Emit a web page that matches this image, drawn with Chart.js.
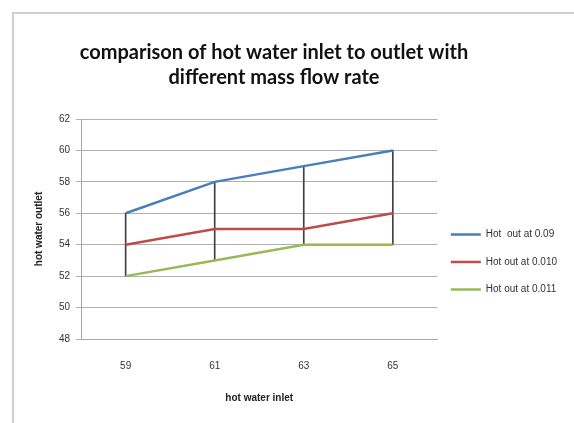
<!DOCTYPE html>
<html>
<head>
<meta charset="utf-8">
<script src="https://cdn.jsdelivr.net/npm/chart.js@4.4.1/dist/chart.umd.min.js"></script>
<style>
    html, body { margin: 0; padding: 0; background: #fff; }
    #frame {
        position: absolute; left: 12px; top: 12px; width: 562px; height: 411px;
        border-left: 2px solid #cfcfcf; border-top: 2px solid #cfcfcf;
    }
    #wrap { position: absolute; left: 0; top: 0; width: 574px; height: 423px; }
</style>
</head>
<body>
<div id="frame"></div>
<div id="wrap"><canvas id="chart" width="574" height="423"></canvas></div>
<script>
// 数据
const inletTemps = ['59', '61', '63', '65'];
const outAt009 = [56, 58, 59, 60];
const outAt010 = [54, 55, 55, 56];
const outAt011 = [52, 53, 54, 54];
const seriesLabels = ['Hot  out at 0.09', 'Hot out at 0.010', 'Hot out at 0.011'];
const yTicks = [48, 50, 52, 54, 56, 58, 60, 62];

// 高低线 (每个类别的最大/最小值)
const highLow = inletTemps.map((_, i) => {
    const vals = [outAt009[i], outAt010[i], outAt011[i]];
    return [Math.min(...vals), Math.max(...vals)];
});

// 标题左移, 图例下移
const nudgeBoxes = {
    id: 'nudgeBoxes',
    afterLayout(chart) {
        if (chart.titleBlock) {
            chart.titleBlock.left -= 26;
            chart.titleBlock.right -= 26;
        }
        if (chart.legend) {
            chart.legend.top += 44;
            chart.legend.bottom += 44;
            chart.legend.left -= 4;
            chart.legend.right -= 4;
        }
    }
};

const lineStyle = (color) => ({
    borderColor: color,
    backgroundColor: color,
    borderWidth: 2.5,
    pointRadius: 0,
    tension: 0,
    fill: false
});

const smallFont = { family: 'Liberation Sans Narrow, Liberation Sans', size: 10 };

const ctx = document.getElementById('chart').getContext('2d');
new Chart(ctx, {
    type: 'line',
    data: {
        labels: inletTemps,
        datasets: [
            { label: seriesLabels[0], data: outAt009, ...lineStyle('#4a7ebb') },
            { label: seriesLabels[1], data: outAt010, ...lineStyle('#be4b48') },
            { label: seriesLabels[2], data: outAt011, ...lineStyle('#98b954') },
            {
                type: 'bar',
                label: 'highlow',
                data: highLow,
                backgroundColor: '#404040',
                barThickness: 1,
                grouped: false
            }
        ]
    },
    options: {
        responsive: false,
        animation: false,
        layout: { padding: { top: 28, left: 29, right: 3, bottom: 15 } },
        plugins: {
            title: {
                display: true,
                text: ['comparison of hot water inlet to outlet with', 'different mass flow rate'],
                color: '#111',
                font: { family: 'Lato', size: 20, weight: 'bold', lineHeight: 1.25 },
                padding: { top: 12, bottom: 29 }
            },
            legend: {
                position: 'right',
                labels: {
                    filter: (item) => item.text !== 'highlow',
                    usePointStyle: true,
                    pointStyle: 'line',
                    pointStyleWidth: 30,
                    color: '#333',
                    font: smallFont,
                    padding: 17.5
                }
            },
            tooltip: { enabled: false }
        },
        scales: {
            x: {
                offset: true,
                grid: { display: false },
                border: { color: '#a8a8a8' },
                ticks: { color: '#333', font: smallFont, padding: 13 },
                title: {
                    display: true,
                    text: 'hot water inlet',
                    color: '#222',
                    font: { ...smallFont, weight: 'bold' },
                    padding: { top: 7 }
                }
            },
            y: {
                min: 48,
                max: 62,
                afterBuildTicks: (axis) => { axis.ticks = yTicks.map(v => ({ value: v })); },
                grid: { color: '#b0b0b0', tickLength: 5 },
                border: { color: '#a8a8a8' },
                ticks: { color: '#333', font: smallFont, padding: 6 },
                title: {
                    display: true,
                    text: 'hot water outlet',
                    color: '#222',
                    font: { ...smallFont, weight: 'bold' },
                    padding: { bottom: 8 }
                }
            }
        }
    },
    plugins: [nudgeBoxes]
});
</script>
</body>
</html>
